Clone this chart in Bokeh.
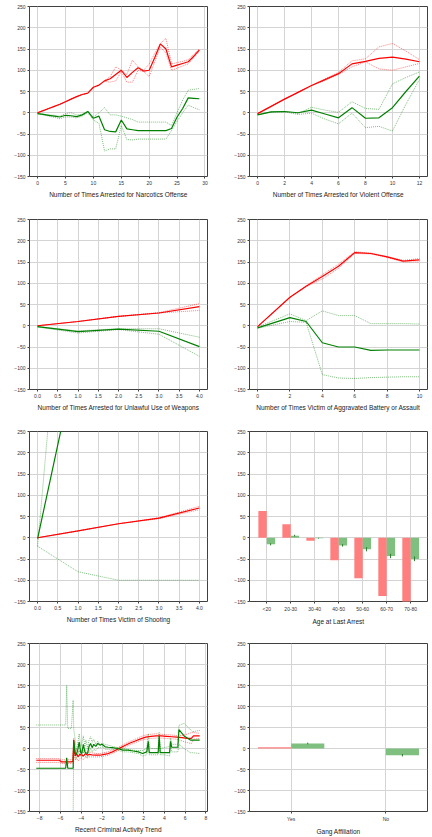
from bokeh.plotting import figure
from bokeh.layouts import column, row
from bokeh.models import FixedTicker, Range1d
from bokeh.embed import file_html
from bokeh.resources import INLINE

# ---------------- data ----------------
# Panel 1: Narcotics
narc_x = list(range(0, 30))
narc_red = [0, 5, 10, 15, 20, 26, 32, 38, 43, 46, 60, 65, 75, 80, 90, 100, 83, 95, 106, 98, 100, 130, 162, 150, 108, 112, 116, 120, 133, 148]
narc_red_hi = [0, 5, 10, 15, 20, 26, 32, 38, 43, 46, 60, 65, 76, 85, 108, 100, 90, 124, 108, 100, 115, 140, 163, 175, 115, 118, 121, 125, 138, 150]
narc_red_lo = [0, 5, 10, 15, 20, 26, 32, 38, 43, 46, 60, 65, 74, 72, 75, 97, 72, 72, 100, 97, 85, 120, 155, 140, 100, 105, 110, 115, 130, 145]
narc_grn = [-2, -4, -6, -8, -10, -6, -7, -9, -5, 3, -13, -8, -40, -44, -45, -17, -38, -40, -42, -42, -42, -42, -42, -42, -37, -10, 10, 35, 34, 33]
narc_grn_hi = [-2, -3, -5, -6, -8, -2, 0, -5, -4, 3, -10, 0, 12, -5, -5, -8, -12, -16, -22, -22, -22, -22, -22, -22, -30, 0, 30, 53, 55, 57]
narc_grn_lo = [-2, -5, -8, -11, -14, -10, -10, -12, -8, 0, -17, -25, -90, -85, -85, -30, -63, -64, -62, -62, -62, -62, -62, -62, -42, -20, 0, 18, 12, 7]

# Panel 2: Violent offense
viol_x = list(range(0, 13))
viol_red = [-2, 15, 32, 48, 64, 78, 92, 115, 121, 128, 131, 126, 120]
viol_red_hi = [-2, 15, 32, 48, 64, 80, 95, 122, 127, 155, 163, 145, 125]
viol_red_lo = [-2, 15, 32, 48, 64, 76, 90, 108, 120, 103, 100, 108, 116]
viol_grn = [-5, 2, 3, 0, 6, -3, -12, 12, -13, -12, 12, 50, 86]
viol_grn_hi = [-4, 2, 3, -2, 13, 6, 1, 26, 10, 8, 68, 83, 96]
viol_grn_lo = [-5, 1, 2, -4, -1, -15, -26, -1, -35, -32, -43, 20, 78]

# Panel 3: Unlawful use of weapons
weap_x = [0, 1, 2, 3, 4]
weap_red = [0, 10, 22, 30, 45]
weap_red_hi = [0, 10, 22, 31, 52]
weap_red_lo = [0, 10, 22, 30, 36]
weap_grn = [-2, -14, -8, -13, -49]
weap_grn_hi = [-2, -12, -7, -7, -27]
weap_grn_lo = [-3, -17, -9, -20, -72]

# Panel 4: Victim of aggravated battery or assault
batt_x = [0, 2, 3, 4, 5, 6, 7, 8, 9, 10]
batt_red = [-2, 67, 93, 116, 140, 172, 170, 162, 152, 155]
batt_red_hi = [-2, 67, 94, 120, 145, 174, 171, 163, 154, 158]
batt_red_lo = [-2, 67, 92, 110, 135, 170, 169, 161, 150, 150]
batt_grn = [-5, 19, 10, -40, -50, -50, -58, -57, -57, -57]
batt_grn_hi = [-3, 28, 12, 35, 24, 24, 5, 5, 5, 4]
batt_grn_lo = [-6, 10, 8, -115, -123, -124, -122, -121, -120, -120]

# Panel 5: Victim of shooting
shoot_x = [0, 1, 2, 3, 4]
shoot_red = [0, 16, 33, 46, 70]
shoot_red_hi = [0, 16, 33, 47, 74]
shoot_red_lo = [0, 16, 33, 45, 66]
shoot_grn = [-2, 440, 700, 800, 900]
shoot_grn_hi = [-20, 1060, 1500, 1700, 1900]
shoot_grn_lo = [-20, -80, -100, -100, -100]

# Panel 6: Age at last arrest
age_cats = ["<20", "20-30", "30-40", "40-50", "50-60", "60-70", "70-80"]
age_red = [63, 32, -7, -53, -95, -137, -165]
age_grn = [-15, 5, -1, -18, -27, -43, -50]
age_grn_err_lo = [-18, 3, -2, -21, -32, -48, -55]
age_grn_err_hi = [-13, 7, 0, -15, -22, -38, -44]

# Panel 7: Recent criminal activity trend
trend_rx = [-8.33, -6.1, -5.9, -4.95, -4.8, -4.72, -4.65, -4.55, -4.45, -4.3, -4.15, -4.0, -3.8, -3.6, -3.4, -3.2, -3.0, -2.6, -2.2, -1.8, -1.4, -1.0, -0.6, -0.2, 0.2, 0.7, 1.2, 1.7, 2.2, 2.7, 3.2, 3.7, 4.2, 4.7, 5.2, 5.7, 6.2, 6.6, 6.8, 7.4]
trend_red = [-28, -28, -32, -32, -30, 20, -10, -18, -12, -20, -14, -15, -18, -12, -16, -14, -15, -16, -16, -14, -12, -8, -3, 2, 7, 13, 18, 23, 27, 29, 30, 30, 29, 28, 27, 26, 24, 24, 30, 30]
trend_red_hi = [-24, -24, -27, -27, -25, 25, 0, -8, -2, -10, -4, -6, -8, -4, -8, -8, -10, -12, -12, -10, -8, -4, 1, 6, 11, 17, 22, 28, 32, 34, 35, 34, 33, 32, 31, 31, 34, 38, 38, 36]
trend_red_lo = [-33, -33, -36, -36, -34, 12, -20, -28, -22, -30, -24, -24, -26, -20, -22, -20, -20, -20, -20, -18, -16, -12, -7, -2, 3, 9, 14, 19, 22, 24, 25, 25, 24, 23, 22, 18, 14, 12, 22, 24]

trend_gx = [-8.33, -5.68, -5.5, -5.4, -5.3, -4.95, -4.78, -4.72, -4.6, -4.5, -4.35, -4.2, -4.05, -3.95, -3.8, -3.65, -3.55, -3.4, -3.25, -3.1, -2.95, -2.8, -2.6, -2.4, -2.2, -2.0, -1.7, -1.4, -1.0, -0.5, 0.0, 0.5, 1.0, 1.5, 1.9, 2.3, 2.45, 2.55, 2.7, 3.0, 3.4, 3.5, 3.6, 4.0, 4.5, 4.6, 4.7, 5.0, 5.3, 5.4, 5.9, 6.5, 6.7, 7.4]
trend_grn = [-47, -47, -47, -22, -47, -47, -47, 19, -8, -15, -5, 15, -10, -12, 10, -8, -10, -12, 5, 12, 2, 10, 5, 12, 8, 10, 4, 3, 2, 0, -4, -4, -6, -8, -12, -8, 17, -10, -10, -10, -10, 30, -10, -10, -10, 17, 3, 3, 3, 45, 30, 20, 20, 20]
trend_grn_hi = [56, 56, 56, 150, 48, 48, 115, 45, 25, -5, 10, 35, 5, 10, 30, 5, 20, 0, 20, 28, 15, 22, 10, 18, 10, 12, 10, 8, 5, 2, 0, -2, -4, -5, -5, 0, 35, 5, 0, 0, 0, 38, 0, 2, 5, 25, 10, 10, 10, 55, 60, 45, 40, 43]
trend_grn_lo = [-300, -300, -300, -300, -300, -300, -160, 10, -20, -25, -15, -5, -20, -22, -5, -18, -20, -22, -8, 0, -8, -2, -5, 2, 2, 5, -2, -2, -2, -4, -8, -8, -10, -12, -18, -15, 5, -15, -15, -15, -15, 20, -15, -15, -18, 8, -8, -8, -8, 10, 0, -10, -10, -12]

# Panel 8: Gang affiliation
gang_cats = ["Yes", "No"]
gang_red = [3, 0]
gang_grn = [12, -16]
gang_grn_err_lo = [10, -19]
gang_grn_err_hi = [14, -13]

# ---------------- style ----------------
RED = "#ff0000"
GREEN = "#008000"
RED_BAR = "#ff7f7f"
GREEN_BAR = "#7fbf7f"
ERR = "#2e7d2e"
FONT = "Liberation Sans Narrow, Liberation Sans"
YTICKS = [-150, -100, -50, 0, 50, 100, 150, 200, 250]
MINUS = {-150: "\u2212150", -100: "\u2212100", -50: "\u221250"}


def make_fig(xr, xticks, xlabel, col, height, top, xoverrides=None):
    left = 29 if col == 0 else 33
    right = 9 if col == 0 else 5
    p = figure(width=216, height=height, output_backend="svg", toolbar_location=None,
               x_range=Range1d(*xr), y_range=Range1d(-150, 250),
               min_border_left=left, min_border_right=right,
               min_border_top=top, min_border_bottom=height - top - 170)
    p.outline_line_color = "#404040"
    p.outline_line_width = 1
    p.background_fill_color = "white"
    p.border_fill_color = "white"
    for ax in (p.xaxis[0], p.yaxis[0]):
        ax.axis_line_color = None
        ax.major_tick_out = 2
        ax.major_tick_in = 0
        ax.minor_tick_out = 0
        ax.minor_tick_in = 0
        ax.major_tick_line_color = "#404040"
        ax.major_label_text_font = FONT
        ax.major_label_text_font_size = "5px"
        ax.major_label_text_color = "#333333"
        ax.major_label_standoff = 2
    p.yaxis.ticker = FixedTicker(ticks=YTICKS)
    p.yaxis.major_label_overrides = MINUS
    p.xaxis.ticker = FixedTicker(ticks=xticks)
    if xoverrides:
        p.xaxis.major_label_overrides = xoverrides
    p.xaxis.axis_label = xlabel
    p.xaxis.axis_label_text_font = FONT
    p.xaxis.axis_label_text_font_size = "6.5px"
    p.xaxis.axis_label_text_font_style = "normal"
    p.xaxis.axis_label_text_color = "#222222"
    p.xaxis.axis_label_standoff = 3
    p.grid.grid_line_color = "#d4d4d4"
    p.grid.grid_line_width = 1
    return p


def draw_lines(p, x, r, rhi, rlo, g, ghi, glo, xg=None):
    if xg is None:
        xg = x
    p.line(x, rhi, line_color=RED, line_alpha=0.5, line_dash="1 1", line_width=1)
    p.line(x, rlo, line_color=RED, line_alpha=0.5, line_dash="1 1", line_width=1)
    p.line(xg, ghi, line_color=GREEN, line_alpha=0.5, line_dash="1 1", line_width=1)
    p.line(xg, glo, line_color=GREEN, line_alpha=0.5, line_dash="1 1", line_width=1)
    p.line(x, r, line_color=RED, line_width=1.2)
    p.line(xg, g, line_color=GREEN, line_width=1.2)


def fmt_dec(ticks):
    return {t: f"{t:.1f}" for t in ticks}


def fmt_minus(ticks):
    return {t: (f"\u2212{abs(t)}" if t < 0 else str(t)) for t in ticks}


# Panel 1
p1 = make_fig((-1.45, 30.45), [0, 5, 10, 15, 20, 25, 30], "Number of Times Arrested for Narcotics Offense", 0, 212, 6)
draw_lines(p1, narc_x, narc_red, narc_red_hi, narc_red_lo, narc_grn, narc_grn_hi, narc_grn_lo)

# Panel 2
p2 = make_fig((-0.6, 12.6), [0, 2, 4, 6, 8, 10, 12], "Number of Times Arrested for Violent Offense", 1, 212, 6)
draw_lines(p2, viol_x, viol_red, viol_red_hi, viol_red_lo, viol_grn, viol_grn_hi, viol_grn_lo)

# Panel 3
t05 = [0.0, 0.5, 1.0, 1.5, 2.0, 2.5, 3.0, 3.5, 4.0]
p3 = make_fig((-0.2, 4.2), t05, "Number of Times Arrested for Unlawful Use of Weapons", 0, 212, 7, fmt_dec(t05))
draw_lines(p3, weap_x, weap_red, weap_red_hi, weap_red_lo, weap_grn, weap_grn_hi, weap_grn_lo)

# Panel 4
p4 = make_fig((-0.5, 10.5), [0, 2, 4, 6, 8, 10], "Number of Times Victim of Aggravated Battery or Assault", 1, 212, 7)
draw_lines(p4, batt_x, batt_red, batt_red_hi, batt_red_lo, batt_grn, batt_grn_hi, batt_grn_lo)

# Panel 5
p5 = make_fig((-0.2, 4.2), t05, "Number of Times Victim of Shooting", 0, 212, 7, fmt_dec(t05))
draw_lines(p5, shoot_x, shoot_red, shoot_red_hi, shoot_red_lo, shoot_grn, shoot_grn_hi, shoot_grn_lo)

# Panel 6
age_idx = list(range(len(age_cats)))
p6 = make_fig((-0.72, 6.70), age_idx, "Age at Last Arrest", 1, 212, 7, {i: c for i, c in enumerate(age_cats)})
p6.vbar(x=[i - 0.175 for i in age_idx], top=age_red, bottom=0, width=0.35, fill_color=RED_BAR, line_color=None)
p6.vbar(x=[i + 0.175 for i in age_idx], top=age_grn, bottom=0, width=0.35, fill_color=GREEN_BAR, line_color=None)
p6.segment(x0=[i + 0.16 for i in age_idx], x1=[i + 0.16 for i in age_idx], y0=age_grn_err_lo, y1=age_grn_err_hi, line_color=ERR, line_width=1)

# Panel 7
t7 = [-8, -6, -4, -2, 0, 2, 4, 6, 8]
p7 = make_fig((-8.98, 8.15), t7, "Recent Criminal Activity Trend", 0, 201, 7, fmt_minus(t7))
draw_lines(p7, trend_rx, trend_red, trend_red_hi, trend_red_lo, trend_grn, trend_grn_hi, trend_grn_lo, xg=trend_gx)

# Panel 8
gang_idx = list(range(len(gang_cats)))
p8 = make_fig((-0.44, 1.44), gang_idx, "Gang Affiliation", 1, 201, 7, {i: c for i, c in enumerate(gang_cats)})
p8.vbar(x=[i - 0.175 for i in gang_idx], top=gang_red, bottom=0, width=0.35, fill_color=RED_BAR, line_color=None)
p8.vbar(x=[i + 0.175 for i in gang_idx], top=gang_grn, bottom=0, width=0.35, fill_color=GREEN_BAR, line_color=None)
p8.segment(x0=[i + 0.175 for i in gang_idx], x1=[i + 0.175 for i in gang_idx], y0=gang_grn_err_lo, y1=gang_grn_err_hi, line_color=ERR, line_width=1)

layout = column(row(p1, p2), row(p3, p4), row(p5, p6), row(p7, p8))

with open("out.html", "w") as f:
    f.write(file_html(layout, INLINE))
